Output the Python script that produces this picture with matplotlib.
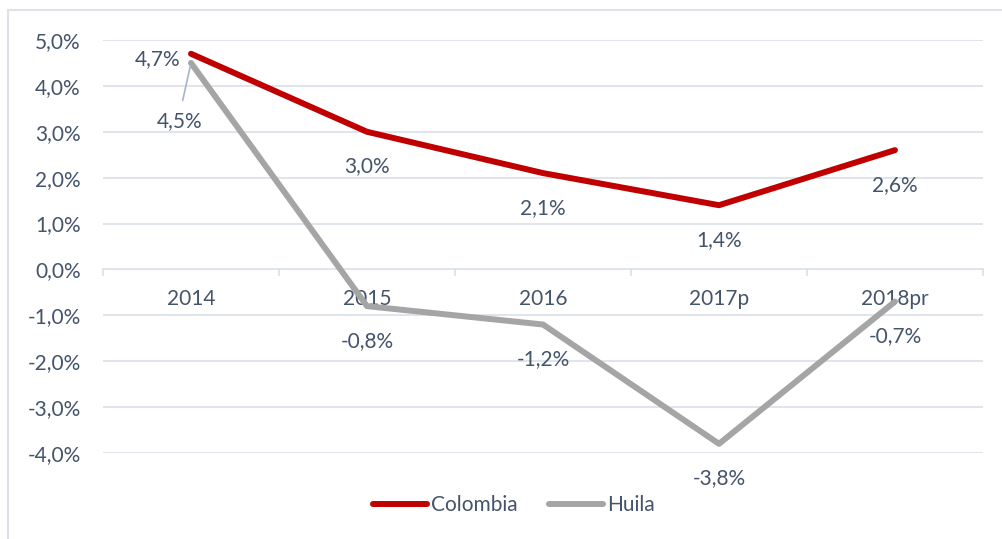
import matplotlib
matplotlib.use("Agg")
import matplotlib.pyplot as plt
from matplotlib.lines import Line2D

categories = ["2014", "2015", "2016", "2017p", "2018pr"]
colombia = [4.7, 3.0, 2.1, 1.4, 2.6]
huila = [4.5, -0.8, -1.2, -3.8, -0.7]
yticks = [5, 4, 3, 2, 1, 0, -1, -2, -3, -4]

TXT = "#44546A"
GRID = "#DDE2E9"
RED = "#C00000"
GRAY = "#A5A5A5"
FS = 15
plt.rcParams["font.family"] = ["Lato", "DejaVu Sans"]

W, H = 1002, 539
fig = plt.figure(figsize=(W / 100, H / 100), dpi=100)
ax = fig.add_axes([103 / W, (H - 453) / H, 880 / W, 413 / H])
x = list(range(len(categories)))

def fmt(v):
    return f"{v:.1f}%".replace(".", ",")

ax.set_xlim(-0.5, len(categories) - 0.5)
ax.set_ylim(-4, 5)
ax.set_yticks(yticks)
ax.set_yticklabels([fmt(v) for v in yticks], color=TXT, fontsize=FS)
ax.tick_params(axis="y", length=0, pad=16)
ax.set_xticks([])
for s in ax.spines.values():
    s.set_visible(False)
ax.grid(axis="y", color=GRID, linewidth=1.3)
ax.set_axisbelow(True)

# category boundary ticks on zero line
for b in [i - 0.5 for i in range(len(categories) + 1)]:
    ax.plot([b, b], [0, -0.13], color=GRID, lw=1.3, clip_on=False, zorder=1)

ax.plot(x, huila, color=GRAY, lw=4.3, solid_capstyle="round", zorder=3, label="Huila")
ax.plot(x, colombia, color=RED, lw=4.3, solid_capstyle="round", zorder=4, label="Colombia")

# category labels at zero line
for xi, c in zip(x, categories):
    ax.annotate(c, (xi, 0), xytext=(0, -21), textcoords="offset points",
                ha="center", va="center", color=TXT, fontsize=FS, zorder=2)

col_off = [(-24, -4), (0, -25), (0, -25), (0, -25), (0, -25)]
hui_off = [(-8, -42), (0, -25), (0, -25), (0, -25), (0, -25)]
for xi, v, o in zip(x, colombia, col_off):
    ax.annotate(fmt(v), (xi, v), xytext=o, textcoords="offset points",
                ha="center", va="center", color=TXT, fontsize=FS, zorder=5)
for xi, v, o in zip(x, huila, hui_off):
    ax.annotate(fmt(v), (xi, v), xytext=o, textcoords="offset points",
                ha="center", va="center", color=TXT, fontsize=FS, zorder=5)
# leader line for Huila 2014
ax.annotate("", (x[0], huila[0]), xytext=(-6, -27), textcoords="offset points",
            arrowprops=dict(arrowstyle="-", color="#A6B4C8", lw=1.2, shrinkA=0, shrinkB=2))

handles = [Line2D([], [], color=RED, lw=4.3, solid_capstyle="round"),
           Line2D([], [], color=GRAY, lw=4.3, solid_capstyle="round")]
leg = fig.legend(handles, ["Colombia", "Huila"], loc="center", bbox_to_anchor=(514 / W, (H - 505) / H),
                 ncol=2, frameon=False, fontsize=FS, handlelength=2.6, handletextpad=0.2,
                 columnspacing=1.5, labelcolor=TXT)

# chart frame
fig.add_artist(Line2D([8 / W, 8 / W], [0, (H - 10) / H], color=GRID, lw=1.5, transform=fig.transFigure))
fig.add_artist(Line2D([8 / W, 1.0], [(H - 10) / H, (H - 10) / H], color=GRID, lw=1.5, transform=fig.transFigure))

fig.savefig("out.png", dpi=100, facecolor="white")
